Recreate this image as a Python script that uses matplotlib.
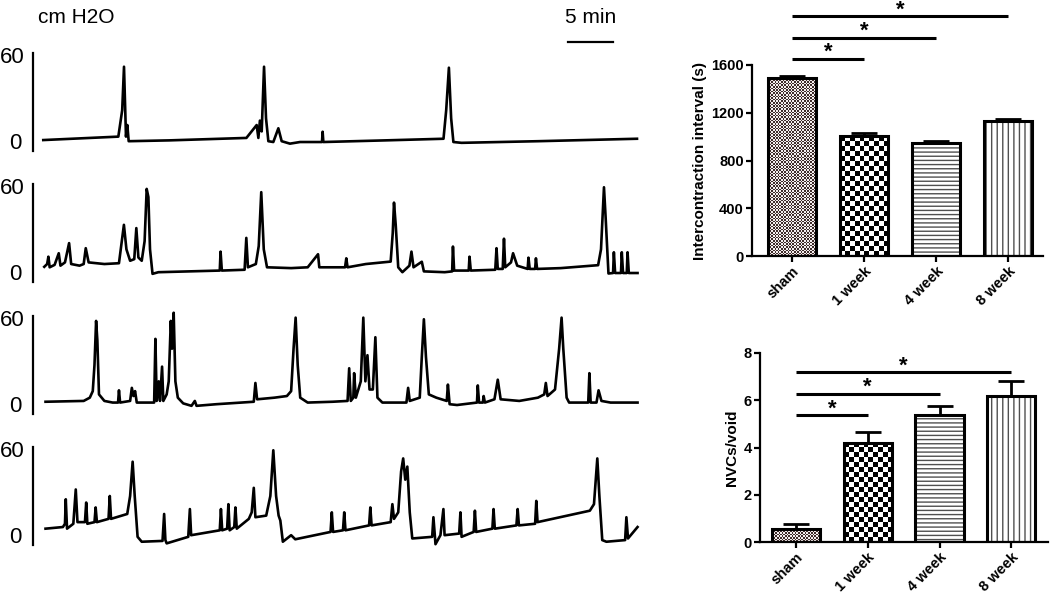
import numpy as np
import matplotlib
matplotlib.use('Agg')
import matplotlib.pyplot as plt
from matplotlib.colors import ListedColormap

plt.rcParams['font.family'] = ['Liberation Sans', 'DejaVu Sans']
plt.rcParams['hatch.linewidth'] = 1.0

# ---- cystometry traces: time (min), pressure (cm H2O) ----
t1 = [0.03, 8.37, 8.8, 9.0, 9.22, 9.37, 9.52, 14.0, 22.6, 23.74, 23.93, 24.1, 24.3, 24.56,
      24.78, 25.04, 25.59, 26.15, 26.52, 27.44, 28.56, 31.0, 31.07, 31.15, 38.0, 44.5,
      44.8, 45.1, 45.35, 45.6, 46.5, 55.0, 66.0]
p1 = [6.7, 8.8, 25, 51.6, 8.8, 15.9, 6.0, 6.5, 8.0, 15.9, 8.0, 18.6, 12.0, 51.6,
      20, 6.0, 5.5, 13.9, 6.0, 4.5, 5.5, 5.5, 11.8, 5.5, 6.5, 7.5,
      25, 51.0, 20, 5.5, 5.0, 6.0, 7.5]

t2 = [0.14, 0.46, 0.6, 0.74, 1.29, 1.75, 1.94, 2.44, 2.9, 3.13, 4.06, 4.52, 4.75, 5.07,
      6.82, 8.44, 8.99, 9.27, 9.68, 10.14, 10.37, 10.6, 10.97, 11.29, 11.52, 11.71, 11.89,
      12.17, 12.82, 19.64, 19.73, 19.87, 22.4, 22.59, 22.77, 23.65, 23.97, 24.25, 24.53,
      24.89, 27.57, 29.41, 30.56, 30.7, 33.56, 33.7, 33.84, 35.87, 37.71, 38.63, 38.86,
      39.0, 39.19, 39.47, 39.93, 40.71, 40.94, 41.17, 42.09, 42.32, 44.63, 45.46, 45.55,
      45.68, 47.3, 47.39, 47.53, 50.25, 50.39, 50.53, 51.08, 51.22, 51.36, 52.0, 52.23,
      52.69, 53.85, 53.94, 54.08, 54.68, 54.77, 54.9, 57.53, 61.68, 62.0, 62.33, 62.51,
      62.83, 63.34, 63.43, 63.57, 64.22, 64.31, 64.45, 64.86, 64.95, 65.09, 66.06]
p2 = [9.3, 11, 15.5, 9, 10.5, 17.6, 10, 12, 23.8, 11, 10, 11, 20.7, 12,
      11, 11.5, 35, 20, 13, 14, 33, 15, 13, 25, 57, 52, 20,
      5, 6, 7, 18.6, 7, 7.5, 27, 9, 11, 22, 55, 20,
      9, 8.5, 9, 17, 9, 9, 14.5, 9, 11, 12, 12.5, 30,
      48.6, 35, 9, 6, 10, 18.6, 9, 12.4, 6.5, 6, 6.5, 21.7,
      7, 7, 15.5, 7, 7.5, 20.7, 8, 8, 26.5, 9, 12, 17.6,
      10, 8, 14.9, 8, 8, 14.5, 8, 8.5, 10.3, 20, 58, 40,
      5.2, 5.5, 18.2, 5.5, 5.5, 18.2, 5.5, 5.5, 18.2, 5.5, 5.5]

t3 = [0.28, 4.52, 5.2, 5.53, 5.72, 5.9, 6.04, 6.22, 6.82, 7.74, 8.34, 8.44, 8.57, 9.68,
      9.87, 10.05, 10.23, 10.42, 12.35, 12.49, 12.63, 12.86, 13.0, 13.23, 13.37, 13.74,
      13.97, 14.2, 14.34, 14.52, 14.71, 14.98, 15.58, 16.5, 16.87, 17.06, 19.27, 23.42,
      23.6, 23.79, 25.72, 27.1, 27.57, 27.84, 28.07, 28.3, 28.58, 29.41, 32.18, 33.84,
      34.02, 34.2, 34.48, 34.57, 34.76, 35.31, 35.59, 35.82, 36.05, 36.28, 36.65, 36.93,
      37.16, 37.71, 40.38, 40.57, 40.75, 41.86, 42.09, 42.32, 42.55, 42.87, 43.7, 44.86,
      44.99, 45.18, 46.0, 48.22, 48.31, 48.45, 48.87, 48.96, 49.1, 50.16, 50.53, 50.85,
      52.92, 54.99, 55.69, 55.87, 56.06, 56.89, 57.35, 57.62, 57.81, 58.18, 58.46, 60.58,
      60.71, 60.85, 61.5, 61.73, 62.05, 63.06, 66.06]
p3 = [7.5, 8, 10, 14, 30, 57, 45, 12, 8, 7, 7, 14.5, 7, 8,
      16, 11, 14, 7, 7, 46, 8, 20, 8, 29, 8, 12,
      20, 57, 40, 62, 20, 10, 6.5, 5, 8, 5, 6, 7.5,
      19, 9, 10, 11, 14, 40, 59, 30, 10, 7, 7.5, 8,
      28, 8, 10, 25, 10, 20, 59, 20, 36, 15, 15, 47,
      10, 7, 7, 16, 8, 10, 35, 58, 35, 12, 10, 8,
      18, 6, 5.5, 7, 17.5, 7, 7, 11, 7, 9, 21, 9,
      8, 10, 12, 19, 11, 15, 40, 59, 40, 10, 7, 7,
      25, 7, 7, 14.5, 8, 7, 7]

t4 = [0.28, 2.21, 2.44, 2.53, 2.67, 3.37, 3.64, 3.83, 4.66, 4.8, 4.93, 5.72, 5.85, 5.99,
      7.28, 7.42, 7.56, 9.36, 9.68, 9.96, 10.19, 10.51, 10.97, 13.28, 13.46, 13.6, 13.74,
      16.14, 16.32, 16.46, 19.64, 19.77, 19.91, 20.46, 20.6, 20.74, 21.25, 21.38, 21.53,
      22.87, 23.19, 23.42, 23.6, 24.8, 25.26, 25.59, 25.9, 26.18, 26.37, 26.65, 27.57,
      28.03, 31.95, 32.09, 32.23, 33.33, 33.47, 33.61, 36.23, 36.37, 36.51, 38.63, 38.82,
      39.0, 39.47, 39.79, 40.02, 40.25, 40.48, 40.75, 41.03, 43.24, 43.38, 43.61, 44.16,
      44.49, 44.62, 46.24, 46.38, 46.51, 47.85, 47.99, 48.13, 49.93, 50.06, 50.2, 52.6,
      52.74, 52.88, 54.68, 54.81, 54.95, 60.76, 61.22, 61.59, 61.82, 62.14, 62.6, 64.68,
      64.82, 65.0, 66.06]
p4 = [10, 11, 13, 28, 10, 13, 34, 14, 14, 26, 13, 14, 23, 14,
      16, 30, 16, 19, 30, 51, 30, 5, 2, 2.5, 19, 3, 1,
      5, 22, 6, 9, 22, 9, 10, 25, 9, 11, 23, 10,
      16, 20, 35, 17, 18, 30, 58, 30, 18, 15, 2, 6,
      3.5, 8, 20, 8, 9, 20, 9, 12, 23, 12, 14, 25,
      16, 20, 45, 53, 40, 48, 20, 4, 5, 17, 0.5, 6,
      22, 6, 7, 20, 5, 8, 21, 8, 10, 22, 10, 12,
      22, 12, 13, 27, 14, 21, 25, 53, 30, 3, 2, 3,
      17, 4, 11]

traces = [(t1, p1), (t2, p2), (t3, p3), (t4, p4)]

# ---- bar charts ----
groups = ['sham', '1 week', '4 week', '8 week']
ici_mean = [1490, 1005, 949, 1131]
ici_sem = [15, 25, 12, 20]
nvc_mean = [0.54, 4.2, 5.38, 6.19]
nvc_sem = [0.21, 0.47, 0.38, 0.61]
ici_sig = [1650, 1826, 2010]     # bracket heights, sham vs 1/4/8 week
nvc_sig = [5.36, 6.27, 7.19]

W, H = 1050, 596
fig = plt.figure(figsize=(W / 100, H / 100), dpi=100)


def px_axes(l, t, r, b):
    return fig.add_axes([l / W, 1 - b / H, (r - l) / W, (b - t) / H])


# traces, one axis each; left spine is the 0-60 cm H2O bar
bar_tops = [53, 184, 316, 447]
for i, (t, p) in enumerate(traces):
    ax = px_axes(33, bar_tops[i], 640, bar_tops[i] + 98)
    ax.plot(t, p, color='black', lw=1.9, clip_on=False, solid_joinstyle='round')
    ax.set_xlim(-10 / 9, 597 / 9)
    ax.set_ylim(0, 60)
    for s in ['top', 'right', 'bottom']:
        ax.spines[s].set_visible(False)
    ax.spines['left'].set_linewidth(1.6)
    ax.set_xticks([])
    ax.set_yticks([])
    ax.text(-2.0, 57, '60', ha='right', va='center', fontsize=16, clip_on=False)
    ax.text(-2.4, 4.5, '0', ha='right', va='center', fontsize=16, clip_on=False)
    if i == 0:
        ax.text(-0.6, 82, 'cm H2O', ha='left', va='center', fontsize=15, clip_on=False)
        ax.plot([58.3, 63.3], [66.7, 66.7], color='black', lw=1.6, clip_on=False)
        ax.text(60.8, 82, '5 min', ha='center', va='center', fontsize=15, clip_on=False)


def checker_fill(ax, bar, sq_px, colors):
    x0, y0 = bar.get_x(), bar.get_y()
    w, h = bar.get_width(), bar.get_height()
    q0 = ax.transData.transform((x0, y0))
    q1 = ax.transData.transform((x0 + w, y0 + h))
    nx = max(1, int(round((q1[0] - q0[0]) / sq_px)))
    ny = max(1, int(round((q1[1] - q0[1]) / sq_px)))
    board = np.indices((ny, nx)).sum(axis=0) % 2
    im = ax.imshow(board, extent=(x0, x0 + w, y0, y0 + h), aspect='auto',
                   cmap=ListedColormap(colors), interpolation='nearest', zorder=2)
    im.set_clip_path(bar)


def bar_panel(ax, means, sems, sig, ylim, yticks, ylabel, xlim):
    x = np.arange(len(groups))
    ax.set_xlim(*xlim)
    ax.set_ylim(*ylim)
    ax.errorbar(x, means, yerr=[np.zeros(len(sems)), sems], fmt='none', ecolor='black',
                elinewidth=2, capsize=9.5, capthick=2, zorder=1)
    fills = ax.bar(x, means, 0.67, color='white', edgecolor='none', zorder=2)
    checker_fill(ax, fills[0], 1.6, ['#3e2c2a', '#f4eeee'])
    checker_fill(ax, fills[1], 5.0, ['black', 'white'])
    ax.bar(x[2], means[2], 0.67, color='white', edgecolor='#505050', hatch='----', lw=0, zorder=2)
    ax.bar(x[3], means[3], 0.67, color='white', edgecolor='#505050', hatch='|||', lw=0, zorder=2)
    ax.bar(x, means, 0.67, fill=False, edgecolor='black', lw=2.2, zorder=4)
    for k, yb in enumerate(sig):
        ax.plot([0, k + 1], [yb, yb], color='black', lw=2.2, clip_on=False, solid_capstyle='butt')
        ax.annotate('*', xy=((k + 1) / 2, yb), xytext=(0, -3), textcoords='offset points',
                    ha='center', va='bottom', fontsize=16, fontweight='bold', annotation_clip=False)
    ax.set_xticks(x)
    ax.set_xticklabels(groups, rotation=45, ha='right', rotation_mode='anchor',
                       fontsize=10.5, fontweight='bold')
    ax.set_yticks(yticks)
    ax.set_yticklabels([str(v) for v in yticks], fontsize=10.5, fontweight='bold')
    ax.set_ylabel(ylabel, fontsize=11, fontweight='bold', labelpad=3)
    for s in ['top', 'right']:
        ax.spines[s].set_visible(False)
    for s in ['left', 'bottom']:
        ax.spines[s].set_linewidth(1.6)
    ax.tick_params(width=1.6, length=4, pad=2)


ax_top = px_axes(752, 65, 1043, 256)
bar_panel(ax_top, ici_mean, ici_sem, ici_sig, (0, 1600), [0, 400, 800, 1200, 1600],
          'Intercontraction interval (s)', (-0.556, 3.486))

ax_bot = px_axes(760, 353, 1048, 542)
bar_panel(ax_bot, nvc_mean, nvc_sem, nvc_sig, (0, 8), [0, 2, 4, 6, 8],
          'NVCs/void', (-0.50, 3.51))

fig.savefig('out.png', dpi=100, facecolor='white')
